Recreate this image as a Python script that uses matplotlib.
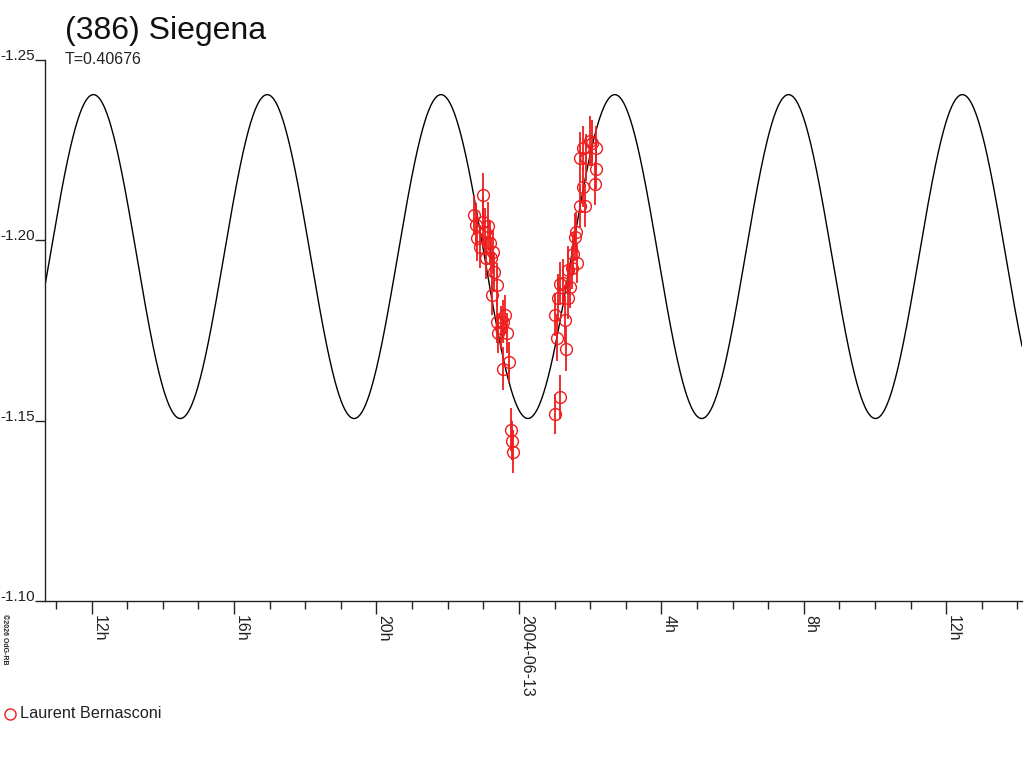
import numpy as np
import matplotlib
matplotlib.use("Agg")
import matplotlib.pyplot as plt
from matplotlib.lines import Line2D

plt.rcParams['font.family'] = ['Liberation Sans', 'DejaVu Sans']

# ---------------- data ----------------
title = "(386) Siegena"
period_days = 0.40676
observer = "Laurent Bernasconi"

# observation times: hours relative to 2004-06-13 00:00 UT
obs_time = [
    -1.261, -1.205, -1.177, -1.093, -1.008, -1.008, -0.952, -0.924, -0.868,
    -0.812, -0.784, -0.728, -0.699, -0.615, -0.756, -0.615, -0.587, -0.503,
    -0.390, -0.447, -0.334, -0.447, -0.278, -0.222, -0.194, -0.166,
    1.014, 1.154, 1.070, 1.014, 1.098, 1.154, 1.323, 1.295, 1.379, 1.239,
    1.435, 1.379, 1.492, 1.632, 1.520, 1.576, 1.604, 1.716, 1.857, 1.801,
    2.138, 2.166, 1.716, 1.885, 1.801, 2.054, 2.166, 1.997,
]
obs_mag = [
    -1.2071, -1.2043, -1.2007, -1.1982, -1.2126, -1.2051, -1.2024, -1.1952, -1.2040,
    -1.1993, -1.1952, -1.1968, -1.1913, -1.1877, -1.1849, -1.1774, -1.1744, -1.1758,
    -1.1794, -1.1774, -1.1744, -1.1644, -1.1663, -1.1475, -1.1445, -1.1414,
    -1.1519, -1.1566, -1.1730, -1.1794, -1.1841, -1.1880, -1.1699, -1.1780, -1.1841, -1.1882,
    -1.1871, -1.1918, -1.1924, -1.1938, -1.1963, -1.2010, -1.2024, -1.2096, -1.2096, -1.2148,
    -1.2157, -1.2198, -1.2229, -1.2229, -1.2256, -1.2270, -1.2256, -1.2276,
]
obs_err = [
    0.0055, 0.0060, 0.0065, 0.0060, 0.0060, 0.0070, 0.0065, 0.0060, 0.0065,
    0.0060, 0.0055, 0.0060, 0.0055, 0.0060, 0.0055, 0.0060, 0.0055, 0.0060,
    0.0055, 0.0060, 0.0055, 0.0060, 0.0055, 0.0060, 0.0055, 0.0060,
    0.0055, 0.0060, 0.0065, 0.0060, 0.0065, 0.0060, 0.0060, 0.0065, 0.0060, 0.0065,
    0.0060, 0.0065, 0.0060, 0.0055, 0.0060, 0.0065, 0.0055, 0.0060, 0.0060, 0.0055,
    0.0060, 0.0055, 0.0070, 0.0065, 0.0060, 0.0065, 0.0060, 0.0070,
]

# Fourier model (second harmonic of the rotation period)
model_mean = -1.1955
model_amp = 0.0449
model_epoch = -2.188   # hour of a brightness maximum (rel. 2004-06-13 00h)

x_range = (-13.31, 14.13)
y_range = (-1.10, -1.25)
y_ticks = [-1.25, -1.20, -1.15, -1.10]
y_ticklabels = ["-1.25", "-1.20", "-1.15", "-1.10"]
x_major = [-12, -8, -4, 0, 4, 8, 12]
x_labels = ["12h", "16h", "20h", "2004-06-13", "4h", "8h", "12h"]
x_minor = list(range(-13, 15))

# ---------------- figure ----------------
W, H = 1024, 768
fig = plt.figure(figsize=(W / 100, H / 100), dpi=100)
ax = fig.add_axes([45 / W, 1 - 601 / H, (1022 - 45) / W, (601 - 60) / H])

half_period_h = period_days * 24 / 2
tt = np.linspace(x_range[0], x_range[1], 2000)
curve = model_mean - model_amp * np.cos(2 * np.pi * (tt - model_epoch) / half_period_h)
ax.plot(tt, curve, color='black', lw=1.0, zorder=2)

ax.errorbar(obs_time, obs_mag, yerr=obs_err, fmt='none', ecolor='#ee1c1c',
            elinewidth=1.3, capsize=0, zorder=3)
ax.plot(obs_time, obs_mag, 'o', mfc='none', mec='#ee1c1c', mew=1.0,
        ms=8.5, zorder=4)

ax.set_xlim(*x_range)
ax.set_ylim(*y_range)

for s in ['top', 'right']:
    ax.spines[s].set_visible(False)
for s in ['left', 'bottom']:
    ax.spines[s].set_color('#222222')
    ax.spines[s].set_linewidth(1.0)

ax.set_yticks(y_ticks)
ax.set_yticklabels(y_ticklabels, fontsize=11, color='#222222')
ax.tick_params(axis='y', direction='out', length=7.5, width=1.0, pad=0,
               color='#222222')
for lab in ax.get_yticklabels():
    lab.set_va('baseline')

ax.set_xticks(x_major)
ax.set_xticks(x_minor, minor=True)
ax.set_xticklabels(x_labels, rotation=270, ha='left', va='top', fontsize=11.5,
                   color='#222222')
ax.tick_params(axis='x', which='major', direction='out', length=9, width=1.0,
               pad=1, color='#222222')
ax.tick_params(axis='x', which='minor', direction='out', length=6, width=1.0,
               color='#222222')

# titles
fig.text(65 / W, 1 - 31 / H, title, fontsize=23, ha='left', va='center',
         color='#111111')
fig.text(65 / W, 1 - 64 / H, "T=0.40676", fontsize=11.5, ha='left',
         va='baseline', color='#222222')

# copyright
fig.text(1 / W, 1 - 614 / H, "©2026 OdG-RB", fontsize=5, rotation=270,
         ha='left', va='top', color='#222222', fontweight='bold')

# legend
fig.add_artist(Line2D([10 / W], [1 - 714 / H], marker='o', mfc='none',
                      mec='#ee1c1c', ms=8, mew=1.0, transform=fig.transFigure))
fig.text(20 / W, 1 - 713 / H, observer, fontsize=11.7, ha='left',
         va='center', color='#222222')

fig.savefig("out.png", dpi=100)
